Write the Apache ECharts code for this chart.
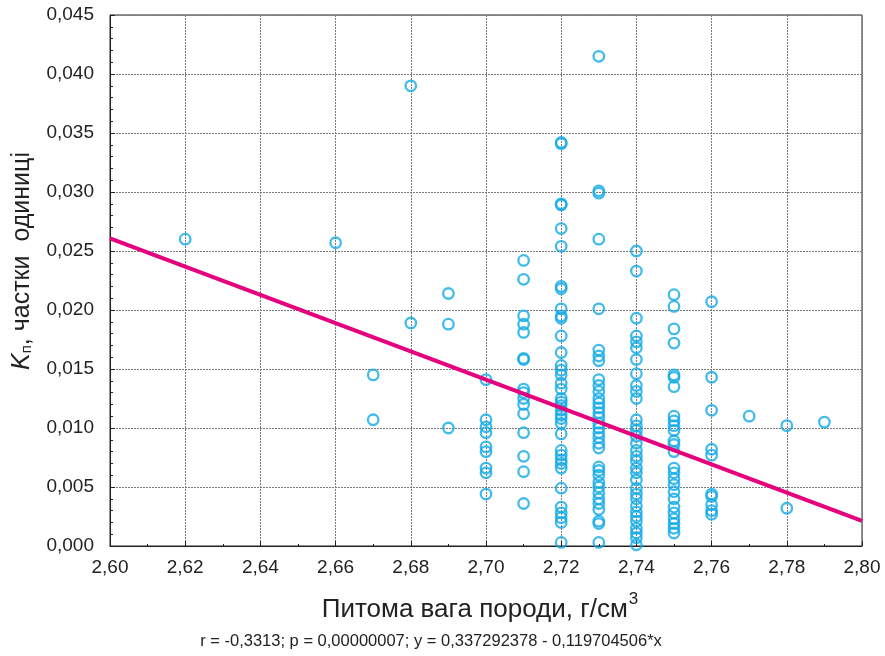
<!DOCTYPE html>
<html><head><meta charset="utf-8">
<script src="https://cdn.jsdelivr.net/npm/echarts@6/dist/echarts.min.js"></script>
<style>html,body{margin:0;padding:0;background:#fff}#c{width:885px;height:656px}</style>
</head><body><div id="c"></div>
<script>
// Density groups (x, g/cm3) and measured Kp values for each group
const densities = [2.62, 2.66, 2.67, 2.68, 2.69, 2.70, 2.71, 2.72, 2.73, 2.74, 2.75, 2.76, 2.77, 2.78, 2.79];
const kp_262 = [0.0260];
const kp_266 = [0.0257];
const kp_267 = [0.0145, 0.0107];
const kp_268 = [0.0390, 0.0189];
const kp_269 = [0.0214, 0.0188, 0.0100];
const kp_270 = [0.0141, 0.0107, 0.0101, 0.0096, 0.0084, 0.0080, 0.0066, 0.0062, 0.0044];
const kp_271 = [0.0242, 0.0226, 0.0195, 0.0188, 0.0181, 0.0159, 0.0158, 0.0133, 0.0130, 0.0125, 0.0120, 0.0112, 0.0096, 0.0076, 0.0063, 0.0036];
const kp_272 = [0.0342, 0.0341, 0.0290, 0.0289, 0.0269, 0.0254, 0.0220, 0.0218, 0.0201, 0.0195, 0.0193, 0.0178, 0.0164, 0.0153, 0.0149, 0.0145, 0.0138, 0.0133, 0.0125, 0.0122, 0.0119, 0.0115, 0.0111, 0.0108, 0.0104, 0.0095, 0.0081, 0.0077, 0.0073, 0.0070, 0.0066, 0.0049, 0.0033, 0.0028, 0.0024, 0.0020, 0.0003];
const kp_273 = [0.0415, 0.0301, 0.0299, 0.0260, 0.0201, 0.0166, 0.0161, 0.0157, 0.0141, 0.0136, 0.0131, 0.0125, 0.0121, 0.0117, 0.0113, 0.0109, 0.0104, 0.0100, 0.0096, 0.0092, 0.0087, 0.0083, 0.0067, 0.0064, 0.0060, 0.0054, 0.0050, 0.0045, 0.0040, 0.0036, 0.0031, 0.0021, 0.0019, 0.0003];
const kp_274 = [0.0250, 0.0233, 0.0193, 0.0178, 0.0173, 0.0168, 0.0158, 0.0146, 0.0136, 0.0131, 0.0125, 0.0107, 0.0102, 0.0098, 0.0093, 0.0087, 0.0081, 0.0076, 0.0072, 0.0066, 0.0062, 0.0056, 0.0049, 0.0044, 0.0040, 0.0034, 0.0029, 0.0025, 0.0021, 0.0015, 0.0011, 0.0007, 0.0001];
const kp_275 = [0.0213, 0.0203, 0.0184, 0.0172, 0.0145, 0.0143, 0.0135, 0.0110, 0.0106, 0.0102, 0.0098, 0.0089, 0.0086, 0.0080, 0.0066, 0.0062, 0.0057, 0.0052, 0.0046, 0.0040, 0.0033, 0.0028, 0.0023, 0.0019, 0.0015, 0.0011];
const kp_276 = [0.0207, 0.0143, 0.0115, 0.0082, 0.0077, 0.0044, 0.0042, 0.0035, 0.0030, 0.0027];
const kp_277 = [0.0110];
const kp_278 = [0.0102, 0.0032];
const kp_279 = [0.0105];
const kpGroups = [kp_262, kp_266, kp_267, kp_268, kp_269, kp_270, kp_271, kp_272, kp_273, kp_274, kp_275, kp_276, kp_277, kp_278, kp_279];

// Regression line end points
const fitX = [2.60, 2.80];
const fitY = [0.02606, 0.00212];

const xTicks = ['2,60','2,62','2,64','2,66','2,68','2,70','2,72','2,74','2,76','2,78','2,80'];
const statsText = 'r = -0,3313; p = 0,00000007; y = 0,337292378 - 0,119704506*x';

const pts = [];
densities.forEach((d, i) => kpGroups[i].forEach(v => pts.push([d, v])));
const fitData = fitX.map((x, i) => [x, fitY[i]]);

const FONT = '"Liberation Sans", Arial, sans-serif';
const chart = echarts.init(document.getElementById('c'));
chart.setOption({
  animation: false,
  backgroundColor: '#fff',
  grid: { left: 110, right: 23, top: 15, bottom: 110, show: true, borderColor: '#222', borderWidth: 1, containLabel: false },
  xAxis: {
    type: 'value', min: 2.60, max: 2.80, interval: 0.02,
    axisLine: { show: true, lineStyle: { color: '#222', width: 1 } },
    axisTick: { show: true, inside: true, length: 5, lineStyle: { color: '#222' } },
    minorTick: { show: true, splitNumber: 2, length: 2, lineStyle: { color: '#222' } },
    axisLabel: { color: '#222', fontFamily: FONT, fontSize: 19, margin: 12,
      formatter: v => xTicks[Math.round((v - 2.60) / 0.02)] },
    splitLine: { show: true, lineStyle: { color: '#7a7a7a', width: 1, type: [2, 1] } }
  },
  yAxis: {
    type: 'value', min: 0, max: 0.045, interval: 0.005,
    axisLine: { show: true, lineStyle: { color: '#222', width: 1 } },
    axisTick: { show: true, inside: true, length: 5, lineStyle: { color: '#222' } },
    minorTick: { show: true, splitNumber: 5, length: 3, lineStyle: { color: '#222' } },
    axisLabel: { color: '#222', fontFamily: FONT, fontSize: 19, margin: 16,
      formatter: v => v.toFixed(3).replace('.', ',') },
    splitLine: { show: true, lineStyle: { color: '#7a7a7a', width: 1, type: [2, 1] } }
  },
  series: [
    {
      type: 'scatter', data: pts, symbol: 'circle', symbolSize: 10.5,
      itemStyle: { color: 'rgba(255,255,255,0)', borderColor: '#12AAE6', borderWidth: 2.3 },
      z: 3
    },
    {
      type: 'line', data: fitData, showSymbol: false, symbol: 'none',
      lineStyle: { color: '#E5007E', width: 4 }, z: 4
    }
  ],
  graphic: [
    { type: 'text', x: 480, y: 610, style: {
        text: '{a|Питома вага породи, г/см}{s|3}', fill: '#222',
        align: 'center', verticalAlign: 'middle',
        rich: { a: { fontFamily: FONT, fontSize: 26, fill: '#222' },
                s: { fontFamily: FONT, fontSize: 17, fill: '#222', padding: [0, 0, 22, 1] } } } },
    { type: 'text', x: 431, y: 641, style: { text: statsText, fill: '#222', fontFamily: FONT, fontSize: 16.5,
        align: 'center', verticalAlign: 'middle' } },
    { type: 'text', x: 22, y: 261, rotation: Math.PI / 2, style: {
        text: '{k|K}{s|п}{a|, частки  одиниці}', fill: '#222',
        align: 'center', verticalAlign: 'middle',
        rich: { k: { fontFamily: FONT, fontSize: 25, fontStyle: 'italic', fill: '#222' },
                s: { fontFamily: FONT, fontSize: 15, fill: '#222', padding: [10, 0, 0, 0] },
                a: { fontFamily: FONT, fontSize: 25, fill: '#222' } } } }
  ]
});
</script></body></html>
